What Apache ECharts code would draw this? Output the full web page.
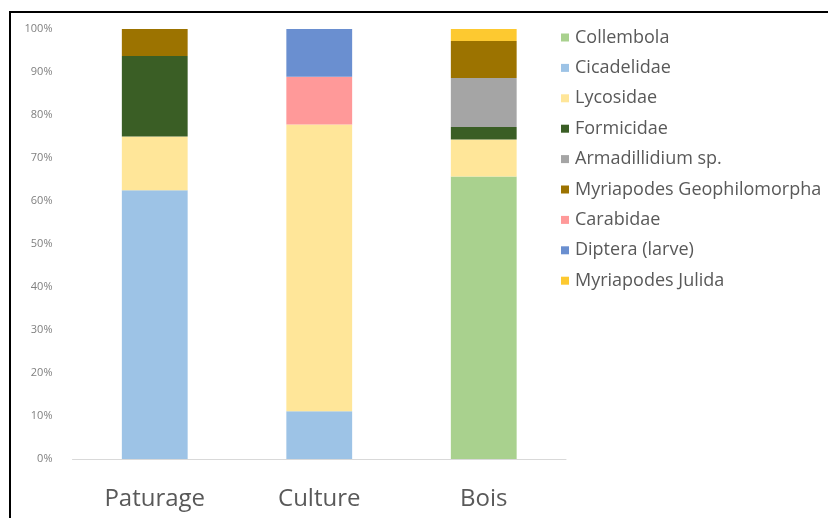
<!DOCTYPE html>
<html>
<head>
<meta charset="utf-8">
<script src="https://cdn.jsdelivr.net/npm/echarts@6/dist/echarts.min.js"></script>
<style>
  html, body { margin: 0; padding: 0; background: #fff; }
  #wrap { position: relative; width: 828px; height: 518px; overflow: hidden; background: #fff; }
  #frame { position: absolute; left: 9px; top: 11px; width: 840px; height: 530px; border: 2px solid #000; box-sizing: border-box; pointer-events: none; z-index: 2; }
  #chart { position: absolute; left: 0; top: 0; width: 828px; height: 518px; }
</style>
</head>
<body>
<div id="wrap">
  <div id="chart"></div>
  <div id="frame"></div>
</div>
<script>
// Habitats (x axis)
const sites = ['Paturage', 'Culture', 'Bois'];

// Share of each taxon per habitat, in percent (stacked bottom to top)
const collembola     = [0, 0, 65.7];
const cicadelidae    = [62.5, 11.1, 0];
const lycosidae      = [12.5, 66.7, 8.6];
const formicidae     = [18.75, 0, 2.9];
const armadillidium  = [0, 0, 11.4];
const geophilomorpha = [6.25, 0, 8.6];
const carabidae      = [0, 11.1, 0];
const diptera        = [0, 11.1, 0];
const julida         = [0, 0, 2.8];

const taxa = [
  { name: 'Collembola',                values: collembola,     color: '#a9d18e' },
  { name: 'Cicadelidae',               values: cicadelidae,    color: '#9dc3e6' },
  { name: 'Lycosidae',                 values: lycosidae,      color: '#ffe699' },
  { name: 'Formicidae',                values: formicidae,     color: '#3a5e25' },
  { name: 'Armadillidium sp.',         values: armadillidium,  color: '#a5a5a5' },
  { name: 'Myriapodes Geophilomorpha', values: geophilomorpha, color: '#9c7300' },
  { name: 'Carabidae',                 values: carabidae,      color: '#ff9999' },
  { name: 'Diptera (larve)',           values: diptera,        color: '#6a8fd0' },
  { name: 'Myriapodes Julida',         values: julida,         color: '#fdc930' }
];

const chart = echarts.init(document.getElementById('chart'), null, { renderer: 'canvas' });

chart.setOption({
  animation: false,
  backgroundColor: '#ffffff',
  textStyle: { fontFamily: 'Open Sans' },
  grid: { left: 72.5, right: 262, top: 29, bottom: 59, containLabel: false },
  legend: {
    orient: 'vertical',
    left: 556,
    top: 23.5,
    itemWidth: 8,
    itemHeight: 8,
    itemGap: 12.4,
    icon: 'rect',
    textStyle: { fontFamily: 'Open Sans', fontSize: 18, color: '#595959', lineHeight: 18, padding: [0, 0, 0, 1] },
    data: taxa.map(t => t.name)
  },
  xAxis: {
    type: 'category',
    data: sites,
    axisTick: { show: false },
    axisLine: { lineStyle: { color: '#d9d9d9', width: 1 } },
    axisLabel: { fontFamily: 'Open Sans', fontSize: 24, color: '#595959', margin: 28 }
  },
  yAxis: {
    type: 'value',
    min: 0,
    max: 100,
    interval: 10,
    splitLine: { show: false },
    axisLine: { show: false },
    axisTick: { show: false },
    axisLabel: { formatter: '{value}%', fontFamily: 'Open Sans', fontSize: 11, color: '#808080', margin: 20 }
  },
  series: taxa.map(t => ({
    name: t.name,
    type: 'bar',
    stack: 'total',
    barWidth: '40%',
    itemStyle: { color: t.color },
    data: t.values
  }))
});
</script>
</body>
</html>
